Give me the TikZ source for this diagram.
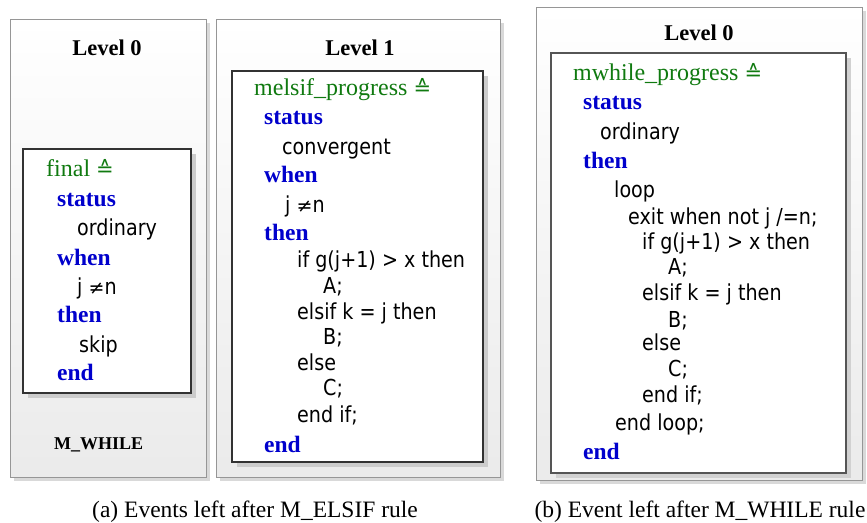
\documentclass[tikz,border=0pt]{standalone}
\usepackage{fontspec}
\setmainfont{Liberation Serif}
\newfontfamily\codef[FakeStretch=0.87]{DejaVu Sans}
\newfontfamily\symf{DejaVu Sans}
\newfontfamily\kwf{Liberation Serif}
\usetikzlibrary{shadows}
\definecolor{kwblue}{RGB}{0,0,204}
\definecolor{evgreen}{RGB}{16,122,16}
\definecolor{outerline}{RGB}{150,150,150}
\definecolor{innerline}{RGB}{50,50,50}
\definecolor{innerlineb}{RGB}{85,85,85}
\tikzset{
  outerbox/.style={draw=outerline, line width=1pt, top color=white, bottom color=black!8,
    inner sep=0, drop shadow={shadow xshift=4pt, shadow yshift=-4pt, fill=black!15, opacity=1}},
  innerbox/.style={draw=innerline, line width=2.6pt, fill=white, inner sep=0,
    drop shadow={shadow xshift=5pt, shadow yshift=-5pt, fill=black!20, opacity=1}},
  innerboxb/.style={draw=innerlineb, line width=1.6pt, fill=white, inner sep=0,
    drop shadow={shadow xshift=5pt, shadow yshift=-5pt, fill=black!18, opacity=1}},
  code/.style={inner sep=0, anchor=base west, font=\codef\fontsize{22}{26}\selectfont},
  kw/.style={inner sep=0, anchor=base west, text=kwblue, font=\kwf\bfseries\fontsize{23.5}{26}\selectfont},
  evname/.style={inner sep=0, anchor=base west, text=evgreen, font=\kwf\fontsize{24}{26}\selectfont},
  leveltitle/.style={inner sep=0, anchor=base, font=\kwf\bfseries\fontsize{22.5}{26}\selectfont},
  machname/.style={inner sep=0, anchor=base west, font=\kwf\bfseries\fontsize{18}{20}\selectfont},
  captiontext/.style={inner sep=0, anchor=base, font=\fontsize{23.5}{28}\selectfont}
}
\begin{document}
\begin{tikzpicture}[x=1pt, y=-1pt]
\useasboundingbox (0,0) rectangle (867,522);
% ---------- box 1 ----------
\node[outerbox, minimum width=196pt, minimum height=458pt] (o1) at (108,248) {};
\node[leveltitle] (t1) at (107,55) {Level 0};
\node[innerbox, minimum width=168pt, minimum height=244pt] (i1) at (107,271) {};
\node[evname] (a1) at (46,176) {final {\symf\fontsize{21}{24}\selectfont ≙}};
\node[kw] (a2) at (57,206) {status};
\node[code] (a3) at (77,235) {ordinary};
\node[kw] (a4) at (57,265) {when};
\node[code] (a5) at (77,294) {j {\symf\fontsize{19}{24}\selectfont ≠}n};
\node[kw] (a6) at (57,322) {then};
\node[code] (a7) at (79,352) {skip};
\node[kw] (a8) at (57,380) {end};
\node[machname] (m1) at (54,449) {M\_WHILE};
% ---------- box 2 ----------
\node[outerbox, minimum width=284pt, minimum height=458pt] (o2) at (358,248) {};
\node[leveltitle] (t2) at (360,55) {Level 1};
\node[innerbox, minimum width=251pt, minimum height=391pt] (i2) at (357.5,266.5) {};
\node[evname] (b1) at (254,95) {melsif\_progress {\symf\fontsize{21}{24}\selectfont ≙}};
\node[kw] (b2) at (264,124) {status};
\node[code] (b3) at (282,154) {convergent};
\node[kw] (b4) at (264,182) {when};
\node[code] (b5) at (285,212) {j {\symf\fontsize{19}{24}\selectfont ≠}n};
\node[kw] (b6) at (264,240) {then};
\node[code] (b7) at (297,267) {if g(j+1) > x then};
\node[code] (b8) at (323,293) {A;};
\node[code] (b9) at (297,319) {elsif k = j then};
\node[code] (b10) at (323,344) {B;};
\node[code] (b11) at (297,370) {else};
\node[code] (b12) at (323,395) {C;};
\node[code] (b13) at (297,422) {end if;};
\node[kw] (b14) at (264,452) {end};
% ---------- box 3 ----------
\node[outerbox, minimum width=326pt, minimum height=473pt] (o3) at (699,243.5) {};
\node[leveltitle] (t3) at (699,40) {Level 0};
\node[innerboxb, minimum width=295pt, minimum height=420pt] (i3) at (698.5,263) {};
\node[evname] (c1) at (573,80) {mwhile\_progress {\symf\fontsize{21}{24}\selectfont ≙}};
\node[kw] (c2) at (583,109) {status};
\node[code] (c3) at (600,139) {ordinary};
\node[kw] (c4) at (583,168) {then};
\node[code] (c5) at (614,197) {loop};
\node[code] (c6) at (628,224) {exit when not j /=n;};
\node[code] (c7) at (642,249) {if g(j+1) > x then};
\node[code] (c8) at (668,274) {A;};
\node[code] (c9) at (642,300) {elsif k = j then};
\node[code] (c10) at (668,327) {B;};
\node[code] (c11) at (642,350) {else};
\node[code] (c12) at (668,376) {C;};
\node[code] (c13) at (642,402) {end if;};
\node[code] (c14) at (615,430) {end loop;};
\node[kw] (c15) at (583,459) {end};
% ---------- captions ----------
\node[captiontext] (capa) at (255,517) {(a) Events left after M\_ELSIF rule};
\node[captiontext] (capb) at (700,517) {(b) Event left after M\_WHILE rule};
\end{tikzpicture}
\end{document}
